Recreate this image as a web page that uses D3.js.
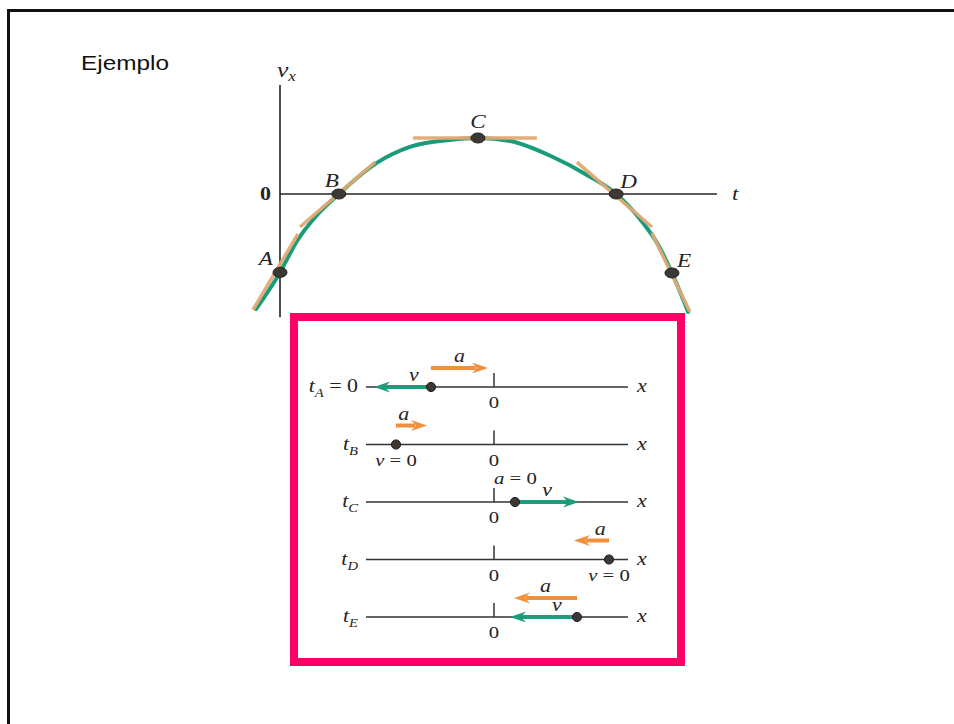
<!DOCTYPE html>
<html>
<head>
<meta charset="utf-8">
<script src="https://cdn.jsdelivr.net/npm/d3@7"></script>
<style>
html,body{margin:0;padding:0;background:#fff;}
svg{display:block;}
</style>
</head>
<body>
<script>
// ---- Data: v_x(t) curve ----
const curveT = [-0.55, 0, 0.39, 0.85, 1.35, 2.22, 2.98, 3.90, 4.54, 5.28, 6.26, 7.04, 7.71, 8.33, 8.65, 8.99, 9.36];
const curveV = [-4.11, -2.8, -1.68, -0.75, 0, 1.11, 1.68, 1.93, 2.0, 1.89, 1.32, 0.68, 0, -1.04, -1.75, -2.82, -4.21];

const pointLabels = ["A", "B", "C", "D", "E"];
const pointT = [0, 1.35, 4.54, 7.71, 8.99];
const pointV = [-2.8, 0, 2.0, 0, -2.82];

// tangent segments at each point
const tanT0 = [-0.62, 0.46, 3.05, 6.81, 8.53];
const tanV0 = [-4.14, -1.18, 2.0, 1.14, -1.39];
const tanT1 = [0.41, 2.18, 5.89, 8.53, 9.40];
const tanV1 = [-1.43, 1.14, 2.0, -1.18, -4.21];

// ---- Data: position diagrams ----
const rowNames = ["A", "B", "C", "D", "E"];
const rowSuffix = [" = 0", "", "", "", ""];
const dotPos = [-63, -98, 21, 115, 83];
const velLen = [-57, 0, 64, 0, -67];
const accLen = [57, 31, 0, -35, -63];

const W = 954, H = 724;
const SX = 1.22; // horizontal stretch of the scanned figure's lettering
const serif = "Liberation Serif, Times New Roman, serif";
const ink = "#262322";

const svg = d3.select("body").append("svg").attr("width", W).attr("height", H);
svg.append("rect").attr("width", W).attr("height", H).attr("fill", "#fff");

function txt(parent, x, y, size, anchor) {
  return parent.append("text")
    .attr("transform", `translate(${x},${y}) scale(${SX},1)`)
    .attr("text-anchor", anchor || "start")
    .attr("font-family", serif).attr("font-size", size).attr("fill", ink);
}

// outer frame (top and left edges)
svg.append("path").attr("d", `M8.5,${H} L8.5,10.5 L${W},10.5`)
  .attr("fill", "none").attr("stroke", "#111").attr("stroke-width", 3);

svg.append("text").attr("x", 81).attr("y", 70)
  .attr("font-family", "Liberation Sans, Arial, sans-serif").attr("font-size", 21)
  .attr("textLength", 88).attr("lengthAdjust", "spacingAndGlyphs")
  .attr("fill", "#111").text("Ejemplo");

// ---- top graph ----
const xT = d3.scaleLinear().domain([0, 10]).range([280, 716]);
const yV = d3.scaleLinear().domain([-4, 4]).range([306, 82]);
const g = svg.append("g");

// axes
g.append("line").attr("x1", xT(0)).attr("x2", xT(0)).attr("y1", yV(3.89)).attr("y2", yV(-4.4))
  .attr("stroke", ink).attr("stroke-width", 1.6);
g.append("line").attr("x1", xT(0)).attr("x2", xT(10.02)).attr("y1", yV(0)).attr("y2", yV(0))
  .attr("stroke", ink).attr("stroke-width", 1.6);

// axis labels
const vx = txt(g, 277, 77, 21).attr("font-style", "italic");
vx.append("tspan").text("v");
vx.append("tspan").attr("font-size", 14).attr("dy", 4).text("x");
txt(g, 732, yV(0) + 6, 19).attr("font-style", "italic").text("t");
txt(g, 271, yV(0) + 6, 18, "end").attr("font-weight", "bold").text("0");

// curve
const curveData = curveT.map((t, i) => [t, curveV[i]]);
g.append("path").datum(curveData)
  .attr("d", d3.line().x(d => xT(d[0])).y(d => yV(d[1])).curve(d3.curveMonotoneX))
  .attr("fill", "none").attr("stroke", "#1a9b7b").attr("stroke-width", 4).attr("stroke-linecap", "round");

// tangents
g.selectAll(".tan").data(pointLabels).join("line")
  .attr("x1", (d, i) => xT(tanT0[i])).attr("y1", (d, i) => yV(tanV0[i]))
  .attr("x2", (d, i) => xT(tanT1[i])).attr("y2", (d, i) => yV(tanV1[i]))
  .attr("stroke", "#e0aa74").attr("stroke-width", 3.5).attr("opacity", 0.95);

// dots
g.selectAll(".pt").data(pointLabels).join("ellipse")
  .attr("cx", (d, i) => xT(pointT[i])).attr("cy", (d, i) => yV(pointV[i]))
  .attr("rx", 7).attr("ry", 5).attr("fill", "#3d3834").attr("stroke", "#222").attr("stroke-width", 1);

// point labels
const lblOff = {A: [-7, -7, "end"], B: [-7, -7, "middle"], C: [0, -10, "middle"], D: [4, -6, "start"], E: [5, -6, "start"]};
pointLabels.forEach((d, i) => {
  txt(g, xT(pointT[i]) + lblOff[d][0], yV(pointV[i]) + lblOff[d][1], 19, lblOff[d][2])
    .attr("font-style", "italic").text(d);
});

// ---- pink box ----
svg.append("rect").attr("x", 294).attr("y", 317).attr("width", 387).attr("height", 345)
  .attr("fill", "none").attr("stroke", "#ff0066").attr("stroke-width", 8);

// ---- position diagrams ----
const px = d3.scaleLinear().domain([-128, 134]).range([366, 628]);
const ry = d3.scalePoint().domain(rowNames).range([387, 617]);
const green = "#1c9e7c", orange = "#f0903c";
const b = svg.append("g");

function arrow(x0, x1, y, color) {
  const dir = Math.sign(x1 - x0);
  const headL = 16, headW = 5.5;
  const xb = x1 - dir * headL;
  b.append("line").attr("x1", x0).attr("x2", xb + dir * 4).attr("y1", y).attr("y2", y)
    .attr("stroke", color).attr("stroke-width", 4);
  b.append("path").attr("d", `M${x1},${y} L${xb},${y - headW} L${xb + dir * 5},${y} L${xb},${y + headW} Z`)
    .attr("fill", color);
}

rowNames.forEach((r, i) => {
  const y = ry(r);
  // axis line
  b.append("line").attr("x1", px(-128)).attr("x2", px(134)).attr("y1", y).attr("y2", y)
    .attr("stroke", "#333").attr("stroke-width", 1.5);
  // tick at 0
  b.append("line").attr("x1", px(0)).attr("x2", px(0)).attr("y1", y - 14).attr("y2", y)
    .attr("stroke", "#333").attr("stroke-width", 1.5);
  txt(b, px(0), y + 21, 17, "middle").text("0");
  txt(b, 637, y + 5, 18).attr("font-style", "italic").text("x");
  // row label
  const lt = txt(b, 358, y + 5, 18, "end");
  lt.append("tspan").attr("font-style", "italic").text("t");
  lt.append("tspan").attr("font-style", "italic").attr("font-size", 12).attr("dy", 5).text(r);
  if (rowSuffix[i]) lt.append("tspan").attr("dy", -5).text(rowSuffix[i]);

  const d0 = px(dotPos[i]);
  // velocity
  if (velLen[i] !== 0) {
    arrow(d0, px(dotPos[i] + velLen[i]), y, green);
    const f = velLen[i] < 0 ? 0.3 : 0.5;
    txt(b, px(dotPos[i] + velLen[i] * f), y - 6, 18, "middle").attr("font-style", "italic").text("v");
  } else {
    const t = txt(b, d0, y + 21, 17, "middle");
    t.append("tspan").attr("font-style", "italic").text("v");
    t.append("tspan").text(" = 0");
  }
  // acceleration
  if (accLen[i] !== 0) {
    arrow(d0, px(dotPos[i] + accLen[i]), y - 19, orange);
    const f = Math.abs(accLen[i]) < 40 ? 0.25 : 0.5;
    txt(b, px(dotPos[i] + accLen[i] * f), y - 25, 18, "middle").attr("font-style", "italic").text("a");
  } else {
    const t = txt(b, px(0), y - 18, 17);
    t.append("tspan").attr("font-style", "italic").text("a");
    t.append("tspan").text(" = 0");
  }
  // dot
  b.append("circle").attr("cx", d0).attr("cy", y).attr("r", 4.6)
    .attr("fill", "#3d3834").attr("stroke", "#222").attr("stroke-width", 1);
});
</script>
</body>
</html>
